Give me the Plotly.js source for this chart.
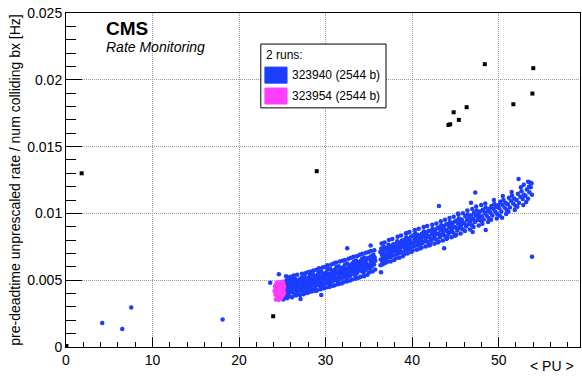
<!DOCTYPE html>
<html>
<head>
<meta charset="utf-8">
<script src="https://cdn.plot.ly/plotly-3.0.1.min.js"></script>
<style>
  html, body { margin: 0; padding: 0; background: #fff; }
  #chart { width: 582px; height: 377px; }
</style>
</head>
<body>
<div id="chart"></div>
<script>
// Run 323940 (2544 b): pile-up vs. normalised rate, one point per lumisection
const run323940_pu = [
  25.32,25.35,25.40,25.45,25.50,25.52,25.58,25.60,25.65,25.70,25.72,25.78,25.80,25.85,25.90,25.95,
  26.02,26.05,26.10,26.15,26.20,26.25,26.30,26.35,26.40,26.45,26.50,26.55,26.60,26.68,26.75,26.80,26.88,26.95,
  27.02,27.08,27.12,27.18,27.22,27.28,27.32,27.38,27.42,27.48,27.52,27.58,27.62,27.68,27.72,27.78,27.85,27.92,
  28.02,28.08,28.12,28.18,28.22,28.28,28.32,28.38,28.45,28.50,28.55,28.60,28.65,28.72,28.78,28.82,28.88,28.95,
  29.02,29.08,29.12,29.18,29.22,29.28,29.35,29.40,29.45,29.50,29.55,29.62,29.68,29.72,29.78,29.85,29.90,29.95,
  30.02,30.08,30.12,30.18,30.25,30.30,30.35,30.42,30.48,30.52,30.58,30.62,30.68,30.75,30.80,30.85,30.90,30.96,
  31.02,31.08,31.12,31.18,31.25,31.30,31.36,31.42,31.48,31.52,31.58,31.62,31.68,31.75,31.80,31.86,31.92,31.97,
  32.02,32.08,32.12,32.18,32.25,32.30,32.36,32.42,32.48,32.52,32.58,32.62,32.68,32.75,32.80,32.86,32.92,32.97,
  33.03,33.07,33.13,33.17,33.23,33.28,33.33,33.38,33.43,33.47,33.53,33.58,33.63,33.67,33.73,33.78,33.85,33.93,
  34.03,34.08,34.13,34.18,34.22,34.27,34.33,34.38,34.43,34.48,34.53,34.58,34.63,34.68,34.73,34.80,34.87,34.94,
  35.02,35.08,35.15,35.20,35.27,35.33,35.40,35.46,35.52,35.60,35.67,35.75,
  36.32,36.38,36.43,36.50,36.55,36.60,36.66,36.72,36.78,36.84,36.90,36.96,
  37.03,37.10,37.16,37.22,37.28,37.35,37.42,37.48,37.55,37.62,37.68,37.75,37.82,37.88,37.95,
  38.03,38.10,38.16,38.22,38.28,38.35,38.42,38.48,38.55,38.62,38.68,38.75,38.82,38.88,38.95,
  39.05,39.12,39.18,39.25,39.32,39.38,39.45,39.52,39.60,39.67,39.74,39.80,39.88,39.95,
  40.05,40.12,40.20,40.28,40.35,40.42,40.50,40.58,40.65,40.72,40.80,40.88,40.95,
  41.05,41.12,41.20,41.28,41.36,41.45,41.52,41.60,41.68,41.77,41.85,41.93,
  42.05,42.13,42.20,42.28,42.36,42.45,42.53,42.60,42.68,42.76,42.85,42.93,
  43.04,43.12,43.20,43.28,43.36,43.44,43.52,43.60,43.68,43.76,43.85,43.93,
  44.04,44.12,44.20,44.28,44.36,44.44,44.52,44.60,44.68,44.76,44.85,44.93,
  45.05,45.14,45.22,45.30,45.40,45.48,45.57,45.65,45.74,45.83,45.92,
  46.05,46.15,46.24,46.33,46.42,46.52,46.62,46.72,46.82,46.92,
  47.05,47.15,47.25,47.35,47.45,47.55,47.65,47.75,47.85,47.95,
  48.06,48.17,48.28,48.39,48.50,48.61,48.72,48.83,48.94,
  49.06,49.17,49.28,49.39,49.50,49.61,49.72,49.83,49.94,
  50.06,50.18,50.30,50.42,50.55,50.68,50.80,50.92,
  51.06,51.18,51.30,51.42,51.55,51.68,51.80,51.92,
  52.08,52.22,52.36,52.50,52.64,52.78,52.92,
  53.10,53.25,53.40,53.55,53.70,53.85,
  52.30,53.40,53.50,52.90,53.80,
  // lumisections at the upper and lower edges of the band
  25.37,25.62,25.83,25.55,25.91,25.44,
  26.12,26.33,26.57,26.71,26.86,26.22,
  27.06,27.27,27.45,27.66,27.83,27.96,
  28.05,28.26,28.41,28.63,28.84,28.97,
  29.04,29.24,29.43,29.66,29.81,29.97,
  30.05,30.22,30.45,30.66,30.83,30.93,
  31.05,31.22,31.44,31.65,31.84,31.95,
  32.05,32.22,32.45,32.65,32.83,32.94,
  33.05,33.25,33.45,33.65,33.82,33.96,
  34.06,34.25,34.45,34.66,34.84,34.97,
  35.05,35.23,35.43,35.63,35.72,
  36.35,36.47,36.63,36.81,36.93,
  37.13,37.32,37.52,37.71,37.92,
  38.13,38.32,38.52,38.72,38.92,
  39.08,39.28,39.48,39.70,39.90,
  40.08,40.32,40.55,40.76,40.92,
  41.10,41.33,41.56,41.73,41.95,
  42.10,42.32,42.57,42.80,42.97,
  43.08,43.32,43.56,43.80,43.97,
  44.08,44.32,44.56,44.80,44.97,
  45.10,45.35,45.60,45.87,
  46.10,46.38,46.68,46.95,
  47.10,47.40,47.70,47.98,
  48.12,48.45,48.78,
  49.12,49.45,49.78,
  50.12,50.48,50.86,
  51.12,51.50,51.86,
  52.15,52.57,52.85,
  53.18,53.62,
  // isolated lumisections
  4.19,6.50,7.54,18.10,53.85,47.30,43.10,50.40,48.50,32.50,35.20,29.50,36.40,23.60,24.60,27.10,39.50,45.30,43.70,47.00,46.80,24.35,25.10
];
const run323940_rate = [
  0.00402,0.00468,0.00438,0.00495,0.00415,0.00452,0.00478,0.00392,0.00430,0.00488,0.00460,0.00410,0.00445,0.00500,0.00425,0.00470,
  0.00435,0.00490,0.00412,0.00462,0.00505,0.00440,0.00478,0.00398,0.00455,0.00512,0.00428,0.00470,0.00492,0.00445,0.00418,0.00482,0.00460,0.00505,
  0.00448,0.00505,0.00422,0.00470,0.00518,0.00438,0.00490,0.00455,0.00412,0.00498,0.00468,0.00525,0.00440,0.00482,0.00505,0.00450,0.00430,0.00495,
  0.00468,0.00522,0.00440,0.00495,0.00538,0.00455,0.00510,0.00478,0.00428,0.00500,0.00545,0.00462,0.00518,0.00485,0.00442,0.00530,0.00475,0.00508,
  0.00485,0.00540,0.00462,0.00512,0.00558,0.00478,0.00530,0.00452,0.00500,0.00565,0.00490,0.00522,0.00468,0.00548,0.00505,0.00535,0.00475,0.00520,
  0.00505,0.00560,0.00480,0.00532,0.00578,0.00498,0.00545,0.00470,0.00520,0.00585,0.00512,0.00550,0.00488,0.00565,0.00528,0.00495,0.00572,0.00540,
  0.00525,0.00578,0.00500,0.00552,0.00598,0.00518,0.00565,0.00490,0.00540,0.00605,0.00532,0.00570,0.00510,0.00585,0.00548,0.00515,0.00592,0.00560,
  0.00545,0.00598,0.00520,0.00572,0.00618,0.00538,0.00585,0.00510,0.00560,0.00625,0.00552,0.00590,0.00530,0.00605,0.00568,0.00535,0.00612,0.00580,
  0.00572,0.00625,0.00548,0.00598,0.00560,0.00640,0.00585,0.00612,0.00535,0.00590,0.00648,0.00568,0.00620,0.00555,0.00602,0.00635,0.00578,0.00610,
  0.00590,0.00645,0.00568,0.00618,0.00660,0.00580,0.00632,0.00555,0.00605,0.00670,0.00598,0.00640,0.00575,0.00625,0.00655,0.00592,0.00612,0.00668,
  0.00612,0.00665,0.00590,0.00640,0.00680,0.00605,0.00655,0.00625,0.00690,0.00618,0.00672,0.00645,
  0.00712,0.00655,0.00738,0.00690,0.00642,0.00725,0.00668,0.00750,0.00700,0.00660,0.00730,0.00685,
  0.00690,0.00742,0.00668,0.00715,0.00765,0.00695,0.00728,0.00672,0.00752,0.00705,0.00738,0.00685,0.00770,0.00720,0.00745,
  0.00718,0.00770,0.00695,0.00745,0.00792,0.00722,0.00758,0.00700,0.00780,0.00735,0.00768,0.00712,0.00798,0.00750,0.00775,
  0.00748,0.00800,0.00725,0.00775,0.00822,0.00752,0.00788,0.00730,0.00810,0.00765,0.00798,0.00742,0.00828,0.00780,
  0.00775,0.00830,0.00752,0.00805,0.00850,0.00782,0.00818,0.00760,0.00840,0.00795,0.00828,0.00770,0.00812,
  0.00800,0.00848,0.00778,0.00825,0.00865,0.00792,0.00838,0.00815,0.00858,0.00785,0.00830,0.00870,
  0.00818,0.00868,0.00795,0.00845,0.00885,0.00812,0.00858,0.00830,0.00878,0.00805,0.00850,0.00890,
  0.00845,0.00895,0.00822,0.00872,0.00912,0.00840,0.00885,0.00858,0.00905,0.00832,0.00878,0.00918,
  0.00868,0.00918,0.00845,0.00895,0.00935,0.00862,0.00908,0.00880,0.00928,0.00855,0.00900,0.00940,
  0.00895,0.00945,0.00872,0.00922,0.00962,0.00890,0.00935,0.00910,0.00955,0.00882,0.00930,
  0.00925,0.00978,0.00902,0.00950,0.00992,0.00918,0.00965,0.00940,0.00985,0.00912,
  0.00958,0.01005,0.00935,0.00982,0.01022,0.00950,0.00998,0.00972,0.01015,0.00945,
  0.00978,0.01028,0.00955,0.01005,0.01045,0.00985,0.01018,0.00965,0.01035,
  0.01005,0.01055,0.00985,0.01032,0.01070,0.01012,0.01048,0.00995,0.01062,
  0.01038,0.01088,0.01015,0.01065,0.01100,0.01045,0.01080,0.01025,
  0.01068,0.01118,0.01045,0.01095,0.01132,0.01075,0.01110,0.01058,
  0.01100,0.01148,0.01078,0.01125,0.01165,0.01108,0.01140,
  0.01132,0.01178,0.01110,0.01158,0.01195,0.01140,
  0.01257,0.01237,0.01200,0.01215,0.01225,
  // lumisections at the upper and lower edges of the band
  0.00375,0.00518,0.00380,0.00365,0.00525,0.00530,
  0.00372,0.00535,0.00385,0.00540,0.00395,0.00528,
  0.00390,0.00548,0.00395,0.00552,0.00405,0.00560,
  0.00410,0.00565,0.00415,0.00572,0.00420,0.00578,
  0.00425,0.00590,0.00432,0.00595,0.00440,0.00600,
  0.00445,0.00612,0.00450,0.00618,0.00458,0.00625,
  0.00462,0.00632,0.00470,0.00640,0.00475,0.00645,
  0.00485,0.00652,0.00490,0.00660,0.00498,0.00668,
  0.00505,0.00675,0.00510,0.00682,0.00518,0.00690,
  0.00525,0.00698,0.00530,0.00705,0.00540,0.00712,
  0.00560,0.00718,0.00565,0.00725,0.00580,
  0.00612,0.00775,0.00620,0.00782,0.00630,
  0.00638,0.00800,0.00640,0.00808,0.00652,
  0.00665,0.00825,0.00668,0.00835,0.00680,
  0.00695,0.00852,0.00700,0.00860,0.00712,
  0.00722,0.00875,0.00728,0.00885,0.00738,
  0.00745,0.00898,0.00752,0.00905,0.00760,
  0.00765,0.00915,0.00772,0.00925,0.00782,
  0.00790,0.00942,0.00798,0.00952,0.00808,
  0.00815,0.00965,0.00822,0.00975,0.00832,
  0.00840,0.00992,0.00850,0.01002,
  0.00868,0.01022,0.00880,0.01032,
  0.00898,0.01052,0.00910,0.01062,
  0.00922,0.01075,0.00935,
  0.00952,0.01100,0.00962,
  0.00985,0.01130,0.00995,
  0.01012,0.01160,0.01025,
  0.01050,0.01195,0.01062,
  0.01085,0.01232,
  // isolated lumisections
  0.00180,0.00135,0.00295,0.00205,0.00675,0.01157,0.01055,0.00967,0.00875,0.00740,0.00760,0.00390,0.00560,0.00480,0.00545,0.00360,0.00855,0.01000,0.00740,0.00860,0.01080,0.00462,0.00355
];

// Run 323954 (2544 b)
const run323954_pu = [
  24.10,24.15,24.20,24.22,24.28,24.30,24.35,24.38,24.42,24.45,24.50,24.52,24.58,24.60,24.65,24.68,24.72,
  24.75,24.80,24.82,24.88,24.90,24.95,25.00,25.02,25.08,25.10,25.15,25.20,25.22,24.25,24.55,24.85,25.05
];
const run323954_rate = [
  0.00420,0.00455,0.00392,0.00440,0.00470,0.00405,0.00428,0.00482,0.00375,0.00450,0.00415,0.00468,0.00395,0.00440,0.00485,0.00362,0.00425,
  0.00458,0.00400,0.00475,0.00435,0.00380,0.00462,0.00412,0.00448,0.00390,0.00472,0.00430,0.00455,0.00405,0.00355,0.00352,0.00365,0.00488
];

// Points outside the fitted runs
const other_pu   = [0.05, 1.81, 23.94, 28.98, 48.40, 54.00, 53.90, 51.70, 46.30, 44.80, 45.40, 44.20, 44.40];
const other_rate = [0.00008, 0.01300, 0.00230, 0.01316, 0.02117, 0.02087, 0.01897, 0.01817, 0.01795, 0.01757, 0.01700, 0.01662, 0.01667];

// Axis ticks and labels
const xRange = [0, 59.4];
const yRange = [0, 0.025];
const xMajor = 10, xMinor = 2;
const yMajor = 0.005, yMinor = 0.001;
const xLabel = '< PU >';
const yLabel = 'pre-deadtime unprescaled rate / num colliding bx [Hz]';
const runNames = ['323940 (2544 b)', '323954 (2544 b)'];
const runColors = ['#1a3dff', '#ff3dff'];

const FONT = '"Liberation Sans", Arial, Helvetica, sans-serif';

const traces = [
  { x: run323940_pu, y: run323940_rate, type: 'scatter', mode: 'markers', name: runNames[0],
    marker: { symbol: 'circle', size: 4.5, color: runColors[0], line: { width: 0 } }, hoverinfo: 'skip' },
  { x: run323954_pu, y: run323954_rate, type: 'scatter', mode: 'markers', name: runNames[1],
    marker: { symbol: 'circle', size: 4.5, color: runColors[1], line: { width: 0 } }, hoverinfo: 'skip' },
  { x: other_pu, y: other_rate, type: 'scatter', mode: 'markers', name: 'other',
    marker: { symbol: 'square', size: 4, color: '#000', line: { width: 0 } }, hoverinfo: 'skip' }
];

const axisCommon = {
  showline: true, linecolor: '#000', linewidth: 1, mirror: true,
  ticks: 'inside', tickcolor: '#000', tickwidth: 1,
  showgrid: true, gridcolor: '#9a9a9a', gridwidth: 1, griddash: '1px,1px',
  zeroline: false, fixedrange: true,
  tickfont: { family: FONT, size: 14, color: '#000' }
};

// ROOT-style legend box
const lg = { x0: 0.379, x1: 0.6226, y0: 0.716, y1: 0.907 };
const boxes = [
  { y0: 0.790, y1: 0.838 },
  { y0: 0.7275, y1: 0.7754 }
];

const shapes = [
  { type: 'rect', xref: 'paper', yref: 'paper', x0: lg.x0, x1: lg.x1, y0: lg.y0, y1: lg.y1,
    line: { color: '#000', width: 1 }, fillcolor: '#fff', layer: 'above' }
].concat(boxes.map((b, i) => ({
  type: 'rect', xref: 'paper', yref: 'paper', x0: 0.387, x1: 0.430, y0: b.y0, y1: b.y1,
  line: { color: runColors[i], width: 1 }, fillcolor: runColors[i], layer: 'above'
})));

const annotations = [
  { text: '<b>CMS</b>', xref: 'paper', yref: 'paper', x: 0.074, y: 0.955, xanchor: 'left', yanchor: 'middle',
    showarrow: false, font: { family: FONT, size: 19, color: '#000' } },
  { text: '<i>Rate Monitoring</i>', xref: 'paper', yref: 'paper', x: 0.074, y: 0.897, xanchor: 'left', yanchor: 'middle',
    showarrow: false, font: { family: FONT, size: 14, color: '#000' } },
  { text: '2 runs:', xref: 'paper', yref: 'paper', x: 0.385, y: 0.874, xanchor: 'left', yanchor: 'middle',
    showarrow: false, font: { family: FONT, size: 12, color: '#000' } },
  { text: runNames[0], xref: 'paper', yref: 'paper', x: 0.436, y: 0.814, xanchor: 'left', yanchor: 'middle',
    showarrow: false, font: { family: FONT, size: 12, color: '#000' } },
  { text: runNames[1], xref: 'paper', yref: 'paper', x: 0.436, y: 0.7515, xanchor: 'left', yanchor: 'middle',
    showarrow: false, font: { family: FONT, size: 12, color: '#000' } },
  { text: xLabel, xref: 'paper', yref: 'paper', x: 0.992, y: -0.057, xanchor: 'right', yanchor: 'middle',
    showarrow: false, font: { family: FONT, size: 14, color: '#000' } }
];

const layout = {
  width: 582, height: 377,
  margin: { l: 66, r: 2, t: 13, b: 30, pad: 0 },
  paper_bgcolor: '#fff', plot_bgcolor: '#fff',
  showlegend: false,
  font: { family: FONT, color: '#000' },
  xaxis: Object.assign({}, axisCommon, {
    range: xRange, tick0: 0, dtick: xMajor, ticklen: 10,
    minor: { dtick: xMinor, tick0: 0, ticks: 'inside', ticklen: 5, tickcolor: '#000', tickwidth: 1, showgrid: false }
  }),
  yaxis: Object.assign({}, axisCommon, {
    range: yRange, tick0: 0, dtick: yMajor, ticklen: 16,
    minor: { dtick: yMinor, tick0: 0, ticks: 'inside', ticklen: 10, tickcolor: '#000', tickwidth: 1, showgrid: false },
    title: { text: yLabel, standoff: 3, font: { family: FONT, size: 14, color: '#000' } }
  }),
  shapes: shapes,
  annotations: annotations
};

Plotly.newPlot('chart', traces, layout, { displayModeBar: false, staticPlot: true });
</script>
</body>
</html>
